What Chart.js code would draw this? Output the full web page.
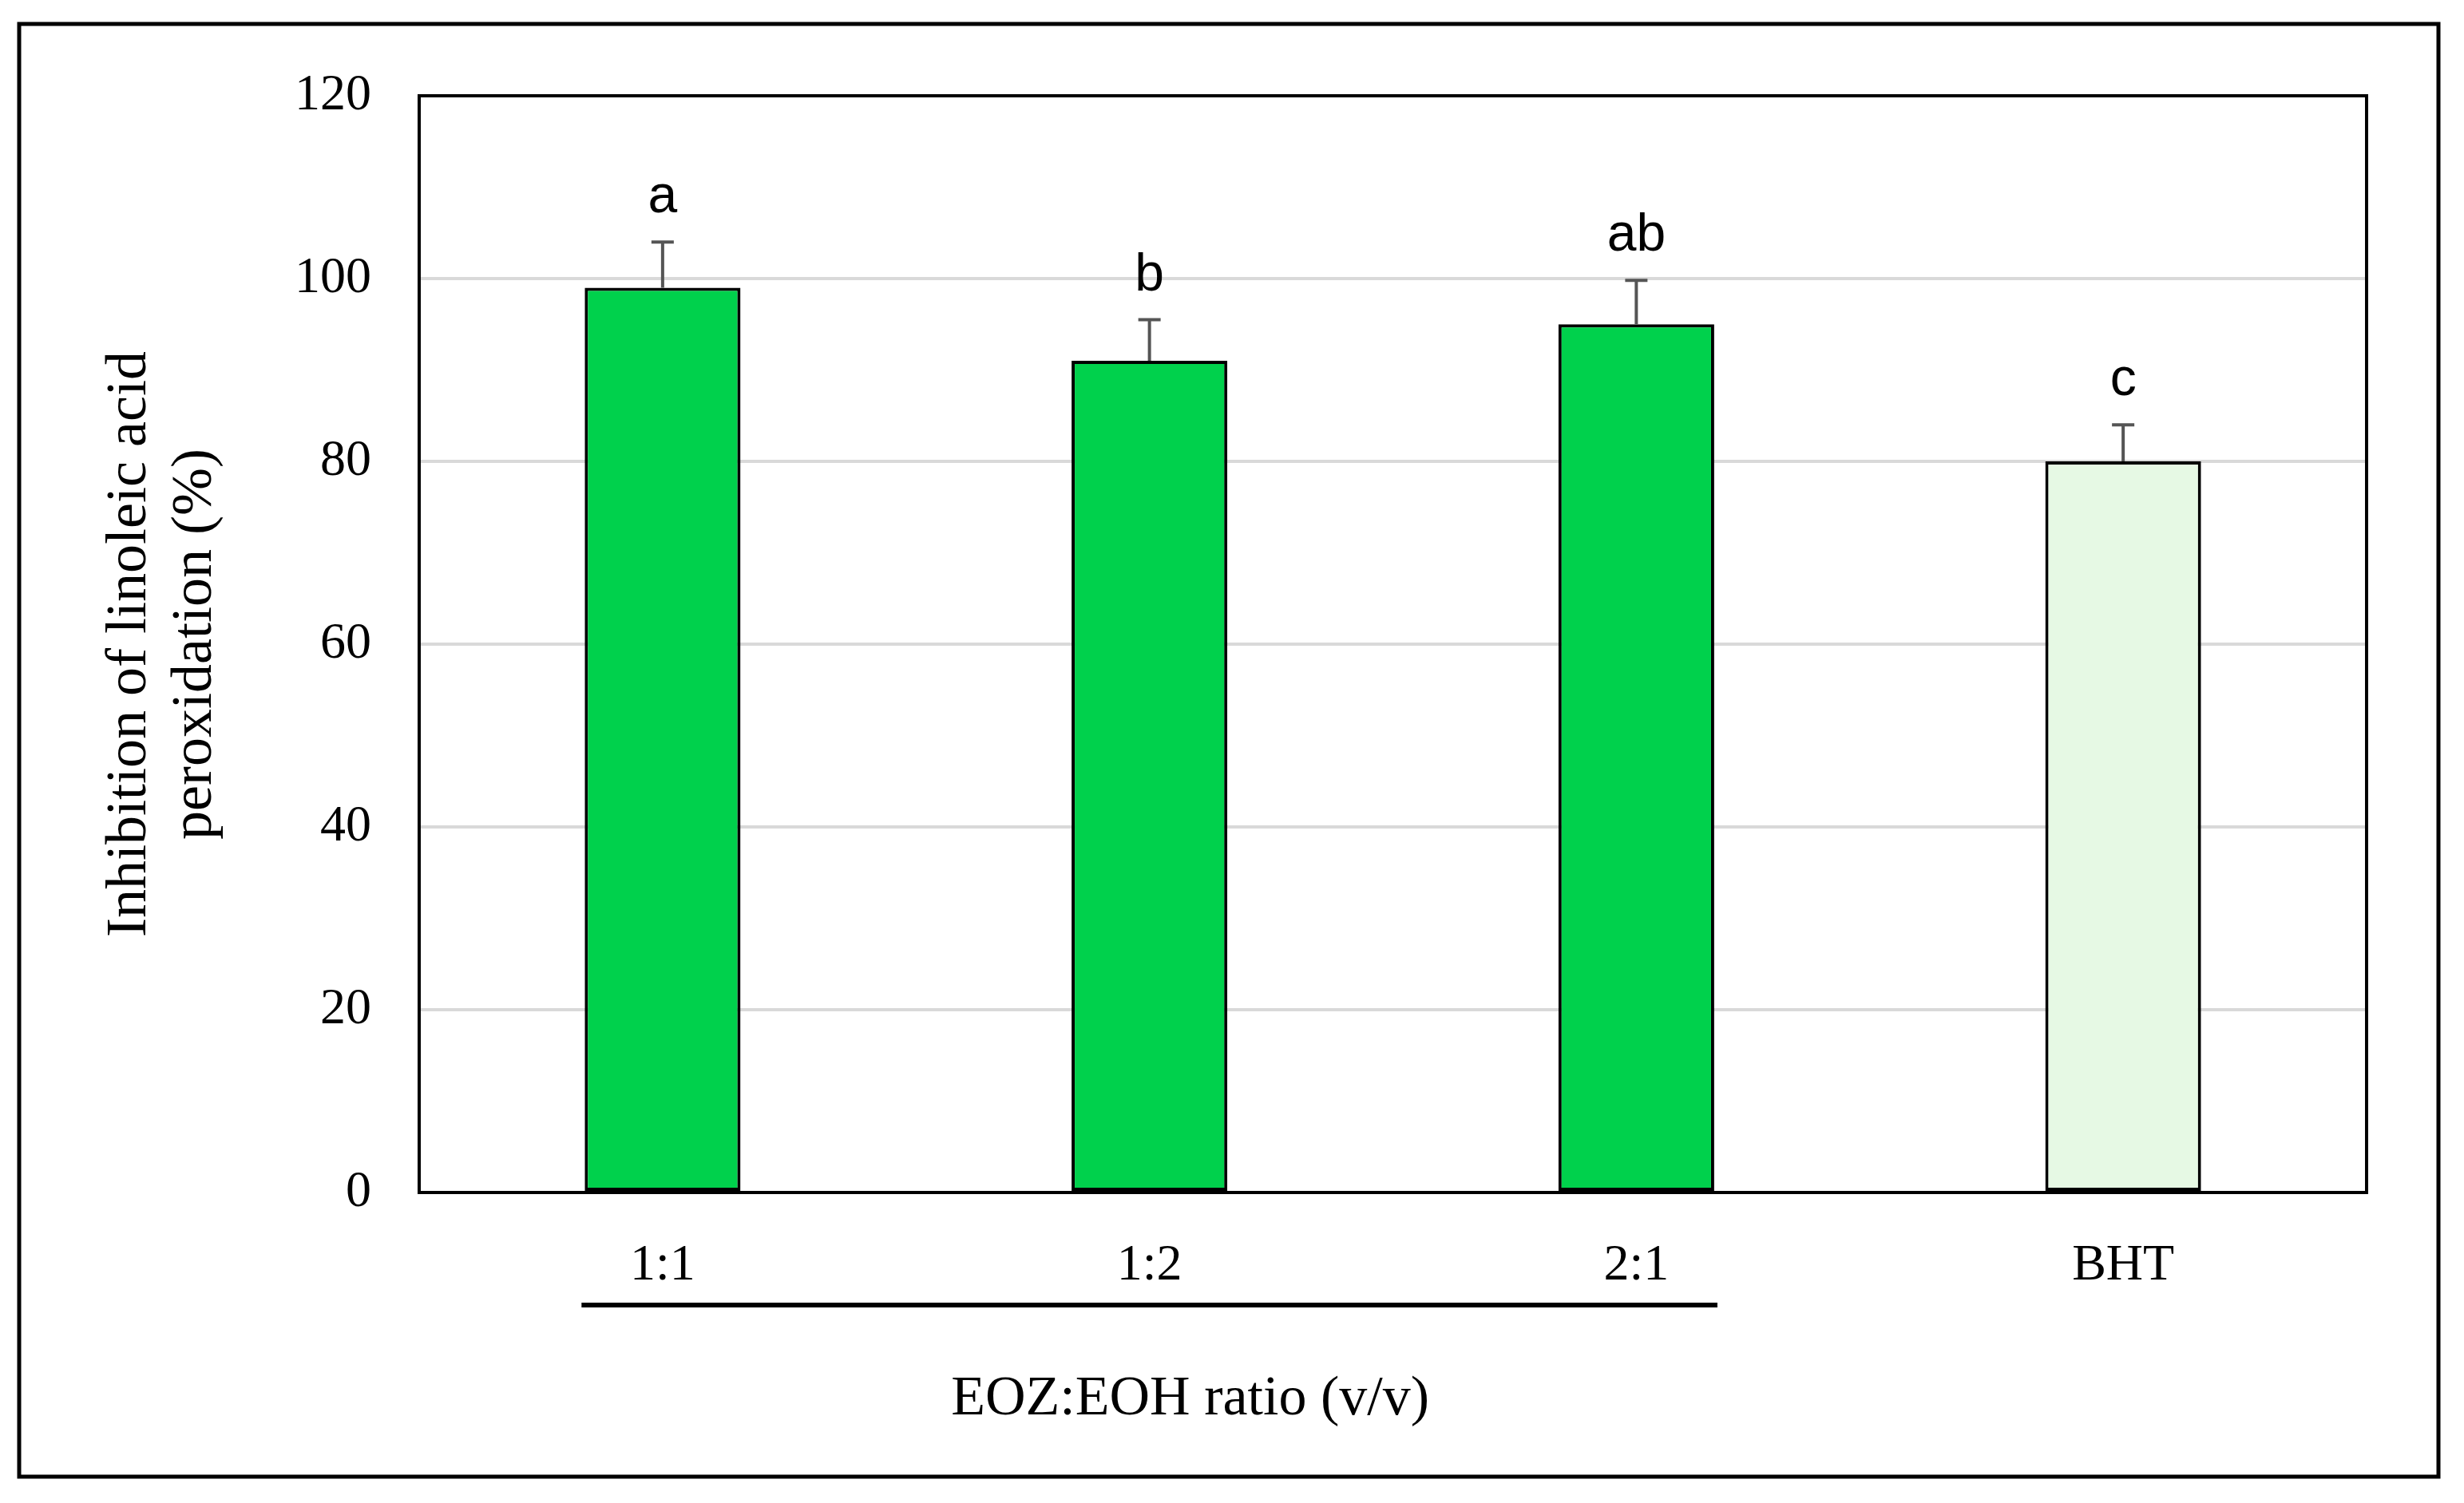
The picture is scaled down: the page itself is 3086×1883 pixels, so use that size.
<!DOCTYPE html>
<html>
<head>
<meta charset="utf-8">
<script src="https://cdn.jsdelivr.net/npm/chart.js@4/dist/chart.umd.min.js"></script>
<style>
  html, body { margin: 0; padding: 0; background: #fff; }
  #wrap { width: 3086px; height: 1883px; }
</style>
</head>
<body>
<div id="wrap"><canvas id="chart"></canvas></div>
<script>
const categories = ['1:1', '1:2', '2:1', 'BHT'];
const values = [99, 91, 95, 80];
const errors = [5, 4.5, 4.8, 4];
const letters = ['a', 'b', 'ab', 'c'];
const barColors = ['#00D14C', '#00D14C', '#00D14C', '#E6F9E4'];
const yTicks = [0, 20, 40, 60, 80, 100, 120];

const SERIF = '"Liberation Serif", "DejaVu Serif", serif';
const SANS = '"Liberation Sans", Arial, sans-serif';

// error bars, letters, frame, group line and texts
const extras = {
  id: 'extras',
  afterDatasetsDraw(chart) {
    const ctx = chart.ctx;
    const y = chart.scales.y;
    const area = chart.chartArea;
    const meta = chart.getDatasetMeta(0);
    ctx.save();
    // frame
    ctx.strokeStyle = '#000';
    ctx.lineWidth = 4;
    ctx.strokeRect(area.left, area.top, area.right - area.left, area.bottom - area.top);
    // error bars (upper only)
    ctx.strokeStyle = '#555';
    ctx.lineWidth = 4;
    meta.data.forEach((bar, i) => {
      const cx = bar.x;
      const top = y.getPixelForValue(values[i]);
      const eTop = y.getPixelForValue(values[i] + errors[i]);
      ctx.beginPath();
      ctx.moveTo(cx, top); ctx.lineTo(cx, eTop);
      ctx.moveTo(cx - 14, eTop); ctx.lineTo(cx + 14, eTop);
      ctx.stroke();
      ctx.fillStyle = '#000';
      ctx.font = '66px ' + SANS;
      ctx.textAlign = 'center';
      ctx.textBaseline = 'bottom';
      ctx.fillText(letters[i], cx, eTop - 22);
    });
    // group underline
    const b0 = meta.data[0], b2 = meta.data[2];
    const lineY = area.bottom + 141;
    ctx.strokeStyle = '#000';
    ctx.lineWidth = 6;
    ctx.beginPath();
    ctx.moveTo(b0.x - b0.width / 2 - 4, lineY);
    ctx.lineTo(b2.x + b2.width / 2 + 4, lineY);
    ctx.stroke();
    ctx.fillStyle = '#000';
    ctx.font = '70px ' + SERIF;
    ctx.textAlign = 'center';
    ctx.textBaseline = 'middle';
    ctx.fillText('EOZ:EOH ratio (v/v)', (b0.x + b2.x) / 2 + 51, area.bottom + 260);
    // y title
    ctx.font = '72px ' + SERIF;
    ctx.translate(200, (area.top + area.bottom) / 2);
    ctx.rotate(-Math.PI / 2);
    ctx.fillText('Inhibition of linoleic acid', 0, -37);
    ctx.fillText('peroxidation (%)', 0, 45);
    ctx.restore();
    // outer border
    ctx.save();
    ctx.strokeStyle = '#000';
    ctx.lineWidth = 5;
    ctx.strokeRect(24, 30, 3030, 1820);
    ctx.restore();
  }
};

new Chart(document.getElementById('chart'), {
  type: 'bar',
  data: {
    labels: categories,
    datasets: [{
      data: values,
      backgroundColor: barColors,
      borderColor: '#000',
      borderWidth: 4,
      borderSkipped: false,
      categoryPercentage: 1,
      barPercentage: 0.32
    }]
  },
  options: {
    responsive: true,
    maintainAspectRatio: false,
    animation: false,
    devicePixelRatio: 1,
    layout: { padding: { left: 0, top: 120, right: 122, bottom: 0 } },
    plugins: { legend: { display: false }, tooltip: { enabled: false } },
    scales: {
      x: {
        grid: { display: false },
        border: { display: false },
        ticks: { color: '#000', font: { family: SERIF, size: 64 }, padding: 46 },
        afterFit(s) { s.height = 389; }
      },
      y: {
        min: 0, max: 120,
        afterBuildTicks(s) { s.ticks = yTicks.map(v => ({ value: v })); },
        grid: { color: '#d9d9d9', lineWidth: 4, drawTicks: false },
        border: { display: false },
        ticks: { color: '#000', font: { family: SERIF, size: 64 }, padding: 60 },
        afterFit(s) { s.width = 525; }
      }
    }
  },
  plugins: [extras]
});
</script>
</body>
</html>
